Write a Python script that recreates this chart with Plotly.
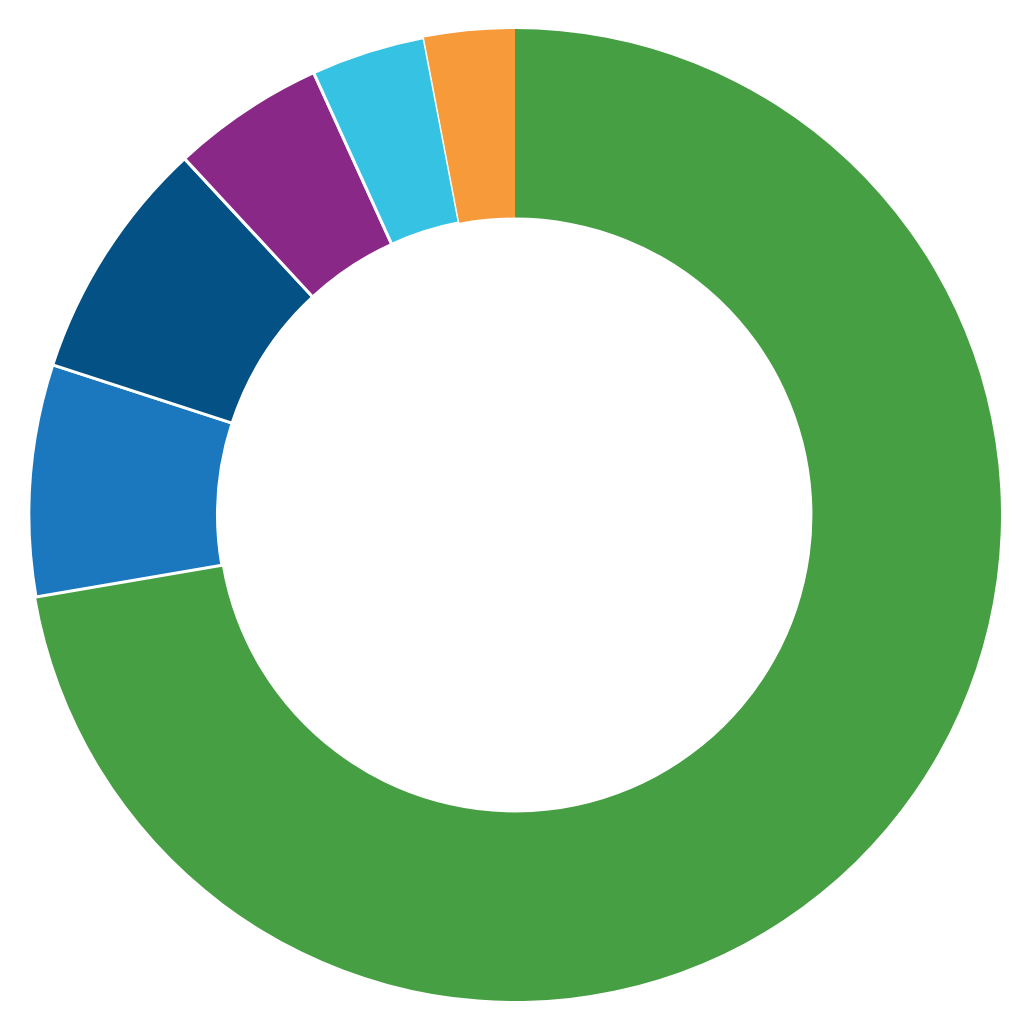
import plotly.graph_objects as go

# slices clockwise from 12 o'clock
labels = ['Green', 'Blue', 'Dark blue', 'Purple', 'Cyan', 'Orange']
values = [72.3, 7.7, 8.1, 5.1, 3.8, 3.0]
colors = ['#479F44', '#1B78BF', '#045285', '#8A2887', '#36C3E3', '#F79A3A']
line_widths = [0, 3, 3, 3, 3, 0]

fig = go.Figure(
    data=[go.Pie(labels=labels,
                 values=values,
                 hole=0.612,
                 sort=False,
                 direction='clockwise',
                 rotation=0,
                 textinfo='none',
                 hoverinfo='label+percent',
                 marker=dict(colors=colors,
                             line=dict(color='white', width=line_widths)))]
)

fig.update_layout(
    width=1024, height=1024,
    showlegend=False,
    paper_bgcolor='white',
    plot_bgcolor='white',
    margin=dict(l=21, r=31, t=21, b=31)
)

fig.write_html("out.html")
